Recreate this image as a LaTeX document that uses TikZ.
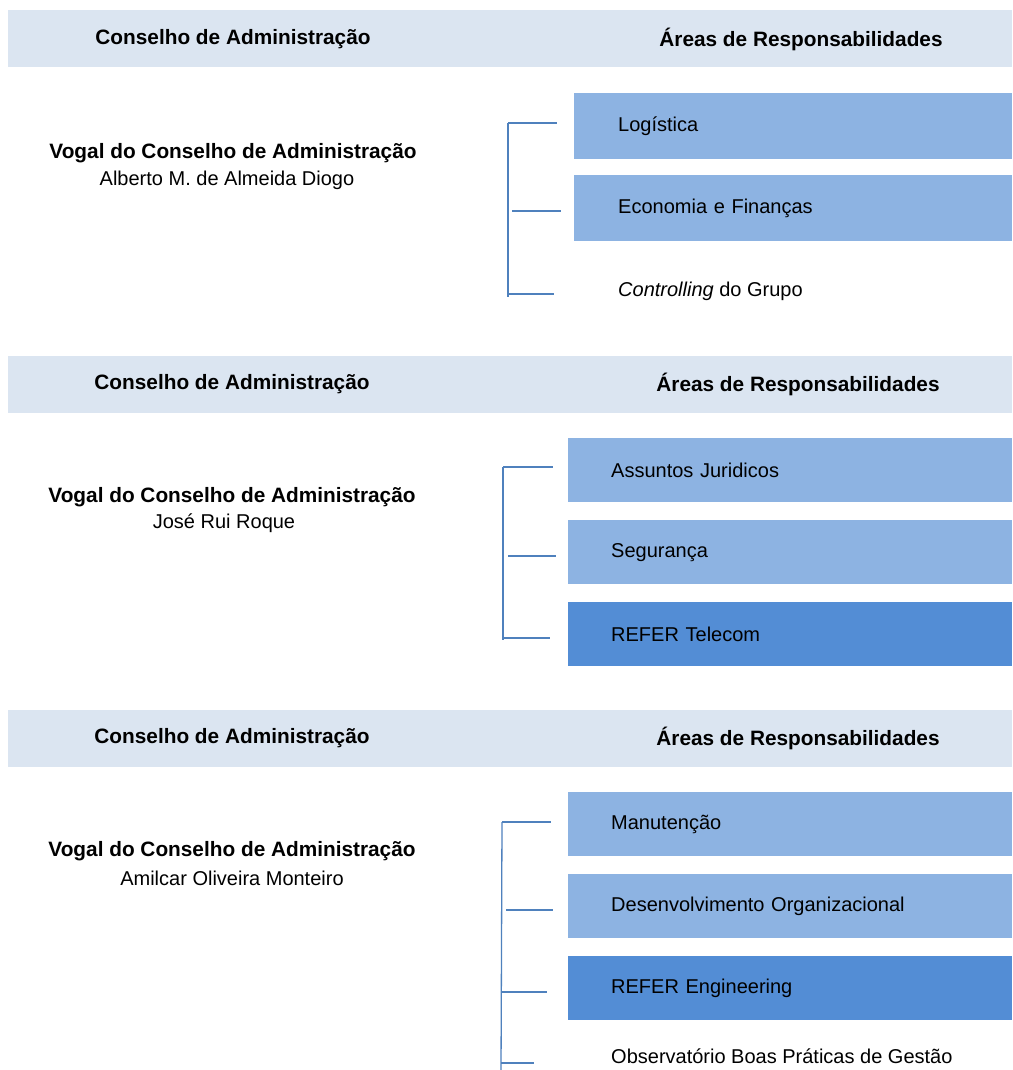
\documentclass[tikz,border=0pt]{standalone}
\usepackage{fontspec}
\setmainfont{Liberation Sans}
\definecolor{hdr}{HTML}{DBE5F1}
\definecolor{lbox}{HTML}{8DB3E2}
\definecolor{dbox}{HTML}{538DD5}
\definecolor{brk}{HTML}{4F81BD}
\begin{document}
\begin{tikzpicture}[x=1pt,y=-1pt,
  hdrband/.style={fill=hdr, draw=none, minimum width=1004pt, minimum height=57pt, anchor=north west, inner sep=0pt},
  hdrtxt/.style={font=\fontsize{20.8}{24}\selectfont\bfseries, inner sep=0pt},
  vogal/.style={font=\fontsize{20.8}{24}\selectfont\bfseries, inner sep=0pt},
  person/.style={font=\fontsize{20}{24}\selectfont, inner sep=0pt},
  areaA/.style={anchor=north west, minimum width=438pt, minimum height=66pt, text width=350pt, inner xsep=44pt, inner ysep=0pt, align=left, font=\fontsize{20}{24}\selectfont},
  areaB/.style={anchor=north west, minimum width=444pt, minimum height=64pt, text width=358pt, inner xsep=43pt, inner ysep=0pt, align=left, font=\fontsize{20}{24}\selectfont},
  plain/.style={anchor=west, inner sep=0pt, font=\fontsize{20}{24}\selectfont},
  light/.style={fill=lbox},
  dark/.style={fill=dbox},
  brkline/.style={draw=brk, line width=1.3pt}
]
\clip (0,0) rectangle (1012,1070);
\fill[white] (0,0) rectangle (1012,1070);

% ---------- Panel 1 ----------
\node[hdrband] (band1) at (8,10) {};
\node[hdrtxt] (h1l) at (233,39) {Conselho de Administração};
\node[hdrtxt] (h1r) at (801,39) {Áreas de Responsabilidades};
\node[vogal] (v1) at (233,153) {Vogal do Conselho de Administração};
\node[person] (p1) at (227,180) {Alberto M. de Almeida Diogo};
\node[areaA, light] (a11) at (574,93) {Logística};
\node[areaA, light] (a12) at (574,175) {Economia e Finanças};
\node[plain] (a13) at (618,291) {\textit{Controlling} do Grupo};
\coordinate (b1t) at (508,123);
\coordinate (b1b) at (508,297);
\coordinate (s11) at (557,123);
\coordinate (m12) at (512,211);
\coordinate (s12) at (561,211);
\coordinate (m13) at (508,294);
\coordinate (s13) at (554,294);
\draw[brkline] (b1t) -- (b1b);
\draw[brkline] (b1t) -- (s11);
\draw[brkline] (m12) -- (s12);
\draw[brkline] (m13) -- (s13);

% ---------- Panel 2 ----------
\node[hdrband] (band2) at (8,356) {};
\node[hdrtxt] (h2l) at (232,384) {Conselho de Administração};
\node[hdrtxt] (h2r) at (798,384) {Áreas de Responsabilidades};
\node[vogal] (v2) at (232,497) {Vogal do Conselho de Administração};
\node[person] (p2) at (224,523) {José Rui Roque};
\node[areaB, light] (a21) at (568,438) {Assuntos Juridicos};
\node[areaB, light] (a22) at (568,520) {Segurança};
\node[areaB, dark] (a23) at (568,602) {REFER Telecom};
\coordinate (b2t) at (503,467);
\coordinate (b2b) at (503,640);
\coordinate (s21) at (553,467);
\coordinate (m22) at (508,556);
\coordinate (s22) at (556,556);
\coordinate (m23) at (503,638);
\coordinate (s23) at (550,638);
\draw[brkline] (b2t) -- (b2b);
\draw[brkline] (b2t) -- (s21);
\draw[brkline] (m22) -- (s22);
\draw[brkline] (m23) -- (s23);

% ---------- Panel 3 ----------
\node[hdrband] (band3) at (8,710) {};
\node[hdrtxt] (h3l) at (232,738) {Conselho de Administração};
\node[hdrtxt] (h3r) at (798,738) {Áreas de Responsabilidades};
\node[vogal] (v3) at (232,851) {Vogal do Conselho de Administração};
\node[person] (p3) at (232,878) {Amilcar Oliveira Monteiro};
\node[areaB, light] (a31) at (568,792) {Manutenção};
\node[areaB, light] (a32) at (568,874) {Desenvolvimento Organizacional};
\node[areaB, dark] (a33) at (568,956) {REFER Engineering};
\node[plain] (a34) at (611,1056) {Observatório Boas Práticas de Gestão};
\coordinate (b3t) at (502,822);
\coordinate (b3b) at (501,1072);
\coordinate (s31) at (551,822);
\coordinate (m32) at (506,910);
\coordinate (s32) at (553,910);
\coordinate (m33) at (501,992);
\coordinate (s33) at (547,992);
\coordinate (m34) at (501,1063);
\coordinate (s34) at (534,1063);
\draw[brkline] (b3t) -- (b3b);
\draw[brkline] (b3t) -- (s31);
\draw[brkline] (m32) -- (s32);
\draw[brkline] (m33) -- (s33);
\draw[brkline] (m34) -- (s34);
\end{tikzpicture}
\end{document}
